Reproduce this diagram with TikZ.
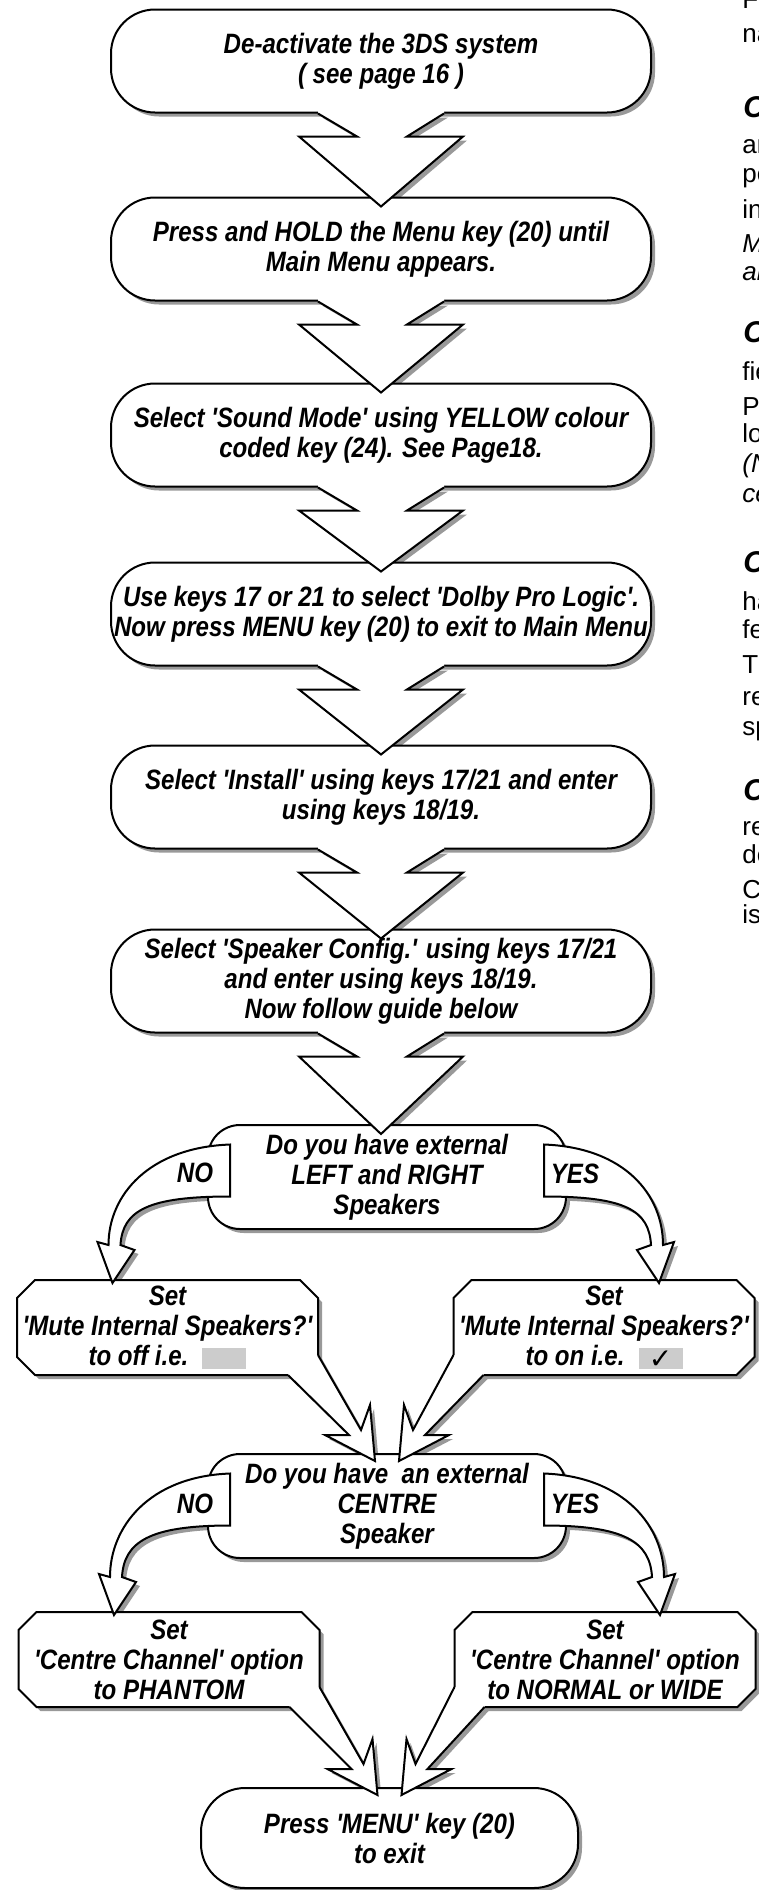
\documentclass[tikz,border=0pt]{standalone}
\usepackage{fontspec}
\setmainfont{Liberation Sans}[Ligatures=TeXOff]
\newfontfamily\flowfont{Liberation Sans}[FakeStretch=0.86, Ligatures=TeXOff]
\newfontfamily\tickfont{DejaVu Sans}
\usetikzlibrary{calc,shadows}
\pgfdeclarelayer{back}
\pgfdeclarelayer{mid}
\pgfsetlayers{back,mid,main}

%% grey key square, empty or ticked
\newcommand{\tickbox}[1]{{\setlength{\fboxsep}{0pt}\raisebox{-1.5pt}{\colorbox{black!20}{\makebox[22pt]{\rule{0pt}{10.5pt}#1}}}}}

%% cut-corner outline under a set node
\newcommand{\octagon}[1]{%
  \begin{pgfonlayer}{mid}
    \draw[octline] ($(#1.north west)+(18,0)$) -- ($(#1.north east)+(-18,0)$) -- ($(#1.north east)+(0,18)$)
      -- ($(#1.south east)+(0,-18)$) -- ($(#1.south east)+(-18,0)$) -- ($(#1.south west)+(18,0)$)
      -- ($(#1.south west)+(0,-18)$) -- ($(#1.north west)+(0,18)$) -- cycle;
  \end{pgfonlayer}}

%% fat arrow from one box down to the next
\newcommand{\steparrow}[2]{%
  \coordinate (#1-a) at ($(#1.south)+(-63,0)$);
  \coordinate (#1-b) at ($(#1.south)+(-24,23)$);
  \coordinate (#1-c) at ($(#1.south)+(-82,23)$);
  \coordinate (#1-d) at ($(#1.south |- #2.north)+(0,10)$);
  \coordinate (#1-e) at ($(#1.south)+(82,23)$);
  \coordinate (#1-f) at ($(#1.south)+(26,23)$);
  \coordinate (#1-g) at ($(#1.south)+(63,0)$);
  \begin{pgfonlayer}{back}
    \fill[arrowshade] (#1-a) -- (#1-b) -- (#1-c) -- (#1-d) -- (#1-e) -- (#1-f) -- (#1-g) -- cycle;
  \end{pgfonlayer}
  \fill[white] ($(#1-a)+(0,-3)$) -- (#1-a) -- (#1-b) -- (#1-c) -- (#1-d) -- (#1-e) -- (#1-f) -- (#1-g) -- ($(#1-g)+(0,-3)$) -- cycle;
  \draw[arrowline] (#1-a) -- (#1-b) -- (#1-c) -- (#1-d) -- (#1-e) -- (#1-f) -- (#1-g);
}

%% bent arrow out of a question box (#4 = 1 left, -1 right)
\newcommand{\sidearrow}[4]{%
  \coordinate (#1#2-f1) at ($(#1.#2)+({23*#4},-32.5)$);
  \coordinate (#1#2-f2) at ($(#1.#2)+({23*#4},19.5)$);
  \coordinate (#1#2-t) at ($(#3.north)+({-55*#4},3)$);
  \coordinate (#1#2-o) at ($(#1#2-t)+({-4*#4},-38)$);
  \coordinate (#1#2-bl) at ($(#1#2-t)+({-15*#4},-41)$);
  \coordinate (#1#2-br) at ($(#1#2-t)+({22*#4},-33)$);
  \coordinate (#1#2-i) at ($(#1#2-t)+({8*#4},-38)$);
  \begin{pgfonlayer}{back}
    \fill[arrowshade] (#1#2-f1) .. controls ($(#1#2-f1)+({-81*#4},3)$) and ($(#1#2-o)+(0,-50)$) .. (#1#2-o)
      -- (#1#2-bl) -- (#1#2-t) -- (#1#2-br) -- (#1#2-i)
      .. controls ($(#1#2-i)+({2*#4},-35)$) and ($(#1#2-f2)+({-81*#4},0)$) .. (#1#2-f2) -- cycle;
  \end{pgfonlayer}
  \draw[arrowline, fill=white] (#1#2-f1) .. controls ($(#1#2-f1)+({-81*#4},3)$) and ($(#1#2-o)+(0,-50)$) .. (#1#2-o)
    -- (#1#2-bl) -- (#1#2-t) -- (#1#2-br) -- (#1#2-i)
    .. controls ($(#1#2-i)+({2*#4},-35)$) and ($(#1#2-f2)+({-81*#4},0)$) .. (#1#2-f2) -- cycle;
}

%% arrow leaving a set box at its lower corner (#4 = 1 left box, -1 right box)
\newcommand{\joinarrow}[4]{%
  \coordinate (#1-c) at (#1.#2 |- #1.south);
  \coordinate (#1-p1) at ($(#1-c)+({-30*#4},0)$);
  \coordinate (#1-p2) at ($(#1-c)+(0,-20)$);
  \coordinate (#1-t) at ($(#3.north)+({-12*#4},8)$);
  \coordinate (#1-sl) at ($(#1-t)+({-26*#4},-26)$);
  \coordinate (#1-bl) at ($(#1-t)+({-50*#4},-26)$);
  \coordinate (#1-br) at ($(#1-t)+({-5*#4},-56)$);
  \coordinate (#1-sr) at ($(#1-t)+({-14*#4},-31)$);
  \begin{pgfonlayer}{back}
    \fill[arrowshade] (#1-p1) -- (#1-sl) -- (#1-bl) -- (#1-t) -- (#1-br) -- (#1-sr) -- (#1-p2) -- (#1-c) -- cycle;
  \end{pgfonlayer}
  \fill[white] ($(#1-p1)+(0,-3)$) -- (#1-p1) -- (#1-sl) -- (#1-bl) -- (#1-t) -- (#1-br) -- (#1-sr) -- (#1-p2) -- ($(#1-p2)+({-3*#4},0)$) -- cycle;
  \draw[arrowline] (#1-p1) -- (#1-sl) -- (#1-bl) -- (#1-t) -- (#1-br) -- (#1-sr) -- (#1-p2);
}

\begin{document}
\begin{tikzpicture}[x=0.5pt, y=-0.5pt,
  boxshadow/.style={drop shadow={shadow xshift=2pt, shadow yshift=-2pt, fill=black!40, opacity=1}},
  flow/.style={draw, fill=white, line width=1pt, align=center, inner sep=1pt,
    font=\flowfont\bfseries\itshape\fontsize{14}{15}\selectfont, boxshadow},
  stepbox/.style={flow, rounded corners=22pt, minimum width=270pt, minimum height=51.5pt},
  askbox/.style={flow, rounded corners=16pt, minimum width=179pt, minimum height=52pt},
  setbox/.style={align=center, inner sep=0pt, outer sep=0pt, minimum width=150.5pt, minimum height=47.5pt,
    font=\flowfont\bfseries\itshape\fontsize{14}{15}\selectfont},
  octline/.style={draw, fill=white, line width=1pt, line join=miter, boxshadow},
  answer/.style={inner sep=0pt, font=\flowfont\bfseries\itshape\fontsize{14}{15}\selectfont},
  arrowline/.style={line width=1pt, line join=miter},
  arrowshade/.style={fill=black!40, transform canvas={xshift=2pt, yshift=-2pt}},
  coltext/.style={anchor=mid west, inner sep=0pt, font=\fontsize{13}{15}\selectfont},
  colhead/.style={anchor=mid west, inner sep=0pt, font=\bfseries\itshape\fontsize{15}{16}\selectfont}]

  \useasboundingbox (0,0) rectangle (759,1890);
  \clip (0,0) rectangle (759,1890);

  %% the six steps
  \node[stepbox] (b1) at (381,61) {De-activate the 3DS system\\( see page 16 )};
  \node[stepbox] (b2) at (381,249) {Press and HOLD the Menu key (20) until\\Main Menu appears.};
  \node[stepbox] (b3) at (381,435) {Select 'Sound Mode' using YELLOW colour\\coded key (24). See Page18.};
  \node[stepbox] (b4) at (381,614) {Use keys 17 or 21 to select 'Dolby Pro Logic'.\\Now press MENU key (20) to exit to Main Menu};
  \node[stepbox] (b5) at (381,797) {Select 'Install' using keys 17/21 and enter\\using keys 18/19.};
  \node[stepbox] (b6) at (381,981) {Select 'Speaker Config.' using keys 17/21\\and enter using keys 18/19.\\Now follow guide below};

  %% first question and its answers
  \node[askbox] (d1) at (387,1177) {Do you have external\\LEFT and RIGHT\\Speakers};
  \node[setbox] (mno) at (167.5,1327.5) {Set\\'Mute Internal Speakers?'\\to off i.e.\hspace{7pt}\tickbox{}};
  \node[setbox] (myes) at (604,1327.5) {Set\\'Mute Internal Speakers?'\\to on i.e.\hspace{7pt}\tickbox{{\tickfont\mdseries\upshape ✓}}};
  \octagon{mno}
  \octagon{myes}

  %% second question and its answers
  \node[askbox] (d2) at (387,1506) {Do you have~ an external\\CENTRE\\Speaker};
  \node[setbox] (cno) at (169,1659.5) {Set\\'Centre Channel' option\\to PHANTOM};
  \node[setbox] (cyes) at (605,1659.5) {Set\\'Centre Channel' option\\to NORMAL or WIDE};
  \octagon{cno}
  \octagon{cyes}

  \node[stepbox, rounded corners=22pt, minimum width=188.5pt, minimum height=50pt] (fin) at (389.5,1838) {Press 'MENU' key (20)\\to exit};

  %% arrows down the steps
  \steparrow{b1}{b2}
  \steparrow{b2}{b3}
  \steparrow{b3}{b4}
  \steparrow{b4}{b5}
  \steparrow{b5}{b6}
  \steparrow{b6}{d1}

  %% NO / YES branches
  \sidearrow{d1}{west}{mno}{1}
  \sidearrow{d1}{east}{myes}{-1}
  \node[answer] (no1) at ($(d1.west)+(-12,-4)$) {NO};
  \node[answer] (yes1) at ($(d1.east)+(8,-3)$) {YES};

  \joinarrow{mno}{east}{d2}{1}
  \joinarrow{myes}{west}{d2}{-1}

  \sidearrow{d2}{west}{cno}{1}
  \sidearrow{d2}{east}{cyes}{-1}
  \node[answer] (no2) at ($(d2.west)+(-12,-2)$) {NO};
  \node[answer] (yes2) at ($(d2.east)+(8,-2)$) {YES};

  \joinarrow{cno}{east}{fin}{1}
  \joinarrow{cyes}{west}{fin}{-1}

  %% edge of the next column, cut off
  \node[coltext] (c1) at (742,3) {Fo};
  \node[coltext] (c2) at (742,37) {na};
  \node[colhead] (c3) at (743,112) {C};
  \node[coltext] (c4) at (742,148) {ar};
  \node[coltext] (c5) at (742,177) {pe};
  \node[coltext] (c6) at (742,213) {in};
  \node[coltext, font=\itshape\fontsize{13}{15}\selectfont] (c7) at (742,247) {M};
  \node[coltext, font=\itshape\fontsize{13}{15}\selectfont] (c8) at (742,275) {ar};
  \node[colhead] (c9) at (743,337) {C};
  \node[coltext] (c10) at (742,375) {fie};
  \node[coltext] (c11) at (742,410) {Pl};
  \node[coltext] (c12) at (742,437) {lo};
  \node[coltext, font=\itshape\fontsize{13}{15}\selectfont] (c13) at (742,467) {(N};
  \node[coltext, font=\itshape\fontsize{13}{15}\selectfont] (c14) at (742,497) {ce};
  \node[colhead] (c15) at (743,567) {C};
  \node[coltext] (c16) at (742,605) {ha};
  \node[coltext] (c17) at (742,633) {fe};
  \node[coltext] (c18) at (742,668) {Tl};
  \node[coltext] (c19) at (742,700) {re};
  \node[coltext] (c20) at (742,730) {sp};
  \node[colhead] (c21) at (743,795) {C};
  \node[coltext] (c22) at (742,830) {re};
  \node[coltext] (c23) at (742,858) {de};
  \node[coltext] (c24) at (742,893) {C};
  \node[coltext] (c25) at (742,918) {is};
\end{tikzpicture}
\end{document}
